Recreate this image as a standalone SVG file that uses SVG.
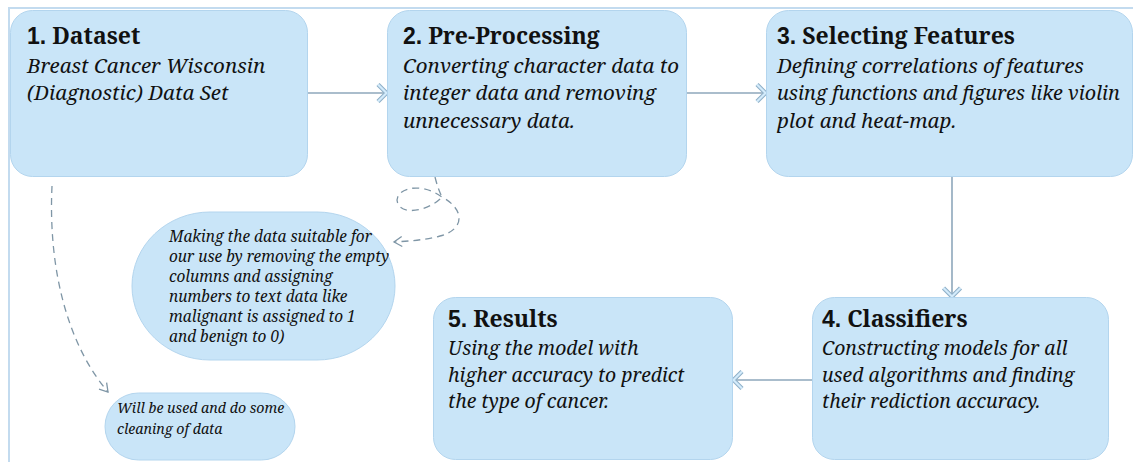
<svg xmlns="http://www.w3.org/2000/svg" width="1133" height="462" viewBox="0 0 1133 462">
<style>
.box{fill:#c9e5f8;stroke:#b3d5ee;stroke-width:1}
.title{font-family:'Noto Serif','Liberation Serif','DejaVu Serif',serif;font-weight:bold;font-size:23px;fill:#111}
.num{font-family:'Liberation Sans',Arial,sans-serif;font-weight:bold}
.body{font-family:'Noto Serif','Liberation Serif','DejaVu Serif',serif;font-style:italic;font-size:20.5px;fill:#111}
.body2{font-family:'Noto Serif','Liberation Serif','DejaVu Serif',serif;font-style:italic;font-size:19.4px;fill:#111}
.note{font-family:'Noto Serif','Liberation Serif','DejaVu Serif',serif;font-style:italic;font-size:15.4px;fill:#111}
.note2{font-family:'Noto Serif','Liberation Serif','DejaVu Serif',serif;font-style:italic;font-size:14.2px;fill:#111}
.conn{fill:none;stroke:#8ea7bb;stroke-width:1.6}
.dash{fill:none;stroke:#7f96a6;stroke-width:1.3;stroke-dasharray:7 5}
</style>
<defs>
<marker id="chev" markerUnits="userSpaceOnUse" viewBox="-12 -11 14 22" refX="0" refY="0" markerWidth="14" markerHeight="22" orient="auto">
<path d="M-9,-8.5 L-0.5,0 L-9,8.5" fill="none" stroke="#8fb0c8" stroke-width="4.4" stroke-linejoin="miter"/>
<path d="M-9,-8.5 L-0.5,0 L-9,8.5" fill="none" stroke="#d3ebfb" stroke-width="2.2" stroke-linejoin="miter"/>
</marker>
<marker id="open" markerUnits="userSpaceOnUse" viewBox="-10 -7 12 14" refX="0" refY="0" markerWidth="12" markerHeight="14" orient="auto">
<path d="M-8,-5 L0,0 L-8,5" fill="none" stroke="#7f96a6" stroke-width="1.3"/>
</marker>
</defs>
<rect width="1133" height="462" fill="#ffffff"/>
<g id="frame">
<path d="M9,462 L9,8 L1133,8" fill="none" stroke="#c3dbef" stroke-width="2"/>
</g>
<g id="connectors">
<path class="conn" d="M308,93 L387,93" marker-end="url(#chev)"/>
<path class="conn" d="M687,93 L766,93" marker-end="url(#chev)"/>
<path class="conn" d="M952,177 L952,297" marker-end="url(#chev)"/>
<path class="conn" d="M812,380 L733,380" marker-end="url(#chev)"/>
<path class="dash" d="M52,186 C48,270 68,345 108,392" marker-end="url(#open)"/>
<path class="dash" d="M435,177 C437,185 439,191 442,197 C430,210 404,216 398,204 C392,190 418,180 442,197 C466,210 464,230 440,236 C425,240 410,241 394,242" marker-end="url(#open)"/>
</g>
<g id="node1">
<rect class="box" x="10.5" y="10.5" width="297" height="166" rx="22"/>
<text class="title" x="27" y="44"><tspan class="num">1.</tspan> Dataset</text>
<text class="body" x="27" y="73">Breast Cancer Wisconsin</text>
<text class="body" x="27" y="100">(Diagnostic) Data Set</text>
</g>
<g id="node2">
<rect class="box" x="387.5" y="10.5" width="299" height="166" rx="22"/>
<text class="title" x="403" y="44"><tspan class="num">2.</tspan> Pre-Processing</text>
<text class="body" x="403" y="73">Converting character data to</text>
<text class="body" x="403" y="100">integer data and removing</text>
<text class="body" x="403" y="128">unnecessary data.</text>
</g>
<g id="node3">
<rect class="box" x="766.5" y="10.5" width="366" height="166" rx="22"/>
<text class="title" x="777" y="44"><tspan class="num">3.</tspan> Selecting Features</text>
<text class="body" x="777" y="73">Defining correlations of features</text>
<text class="body" x="777" y="100" textLength="343" lengthAdjust="spacingAndGlyphs">using functions and figures like violin</text>
<text class="body" x="777" y="128">plot and heat-map.</text>
</g>
<g id="node4">
<rect class="box" x="812.5" y="297.5" width="296" height="162" rx="22"/>
<text class="title" x="822" y="327"><tspan class="num">4.</tspan> Classifiers</text>
<text class="body2" x="822" y="355">Constructing models for all</text>
<text class="body2" x="822" y="382">used algorithms and finding</text>
<text class="body2" x="822" y="408">their rediction accuracy.</text>
</g>
<g id="node5">
<rect class="box" x="433.5" y="297.5" width="299" height="162" rx="22"/>
<text class="title" x="448" y="327"><tspan class="num">5.</tspan> Results</text>
<text class="body2" x="448" y="355">Using the model with</text>
<text class="body2" x="448" y="382">higher accuracy to predict</text>
<text class="body2" x="448" y="408">the type of cancer.</text>
</g>
<g id="note1">
<rect class="box" x="132" y="212" width="263" height="148" rx="78" ry="74"/>
<text class="note" x="169" y="242">Making the data suitable for</text>
<text class="note" x="169" y="262">our use by removing the empty</text>
<text class="note" x="169" y="282">columns and assigning</text>
<text class="note" x="169" y="302">numbers to text data like</text>
<text class="note" x="169" y="322">malignant is assigned to 1</text>
<text class="note" x="169" y="342">and benign to 0)</text>
</g>
<g id="note2">
<rect class="box" x="105" y="393" width="190" height="67" rx="33.5"/>
<text class="note2" x="117" y="413">Will be used and do some</text>
<text class="note2" x="117" y="434">cleaning of data</text>
</g>
</svg>
